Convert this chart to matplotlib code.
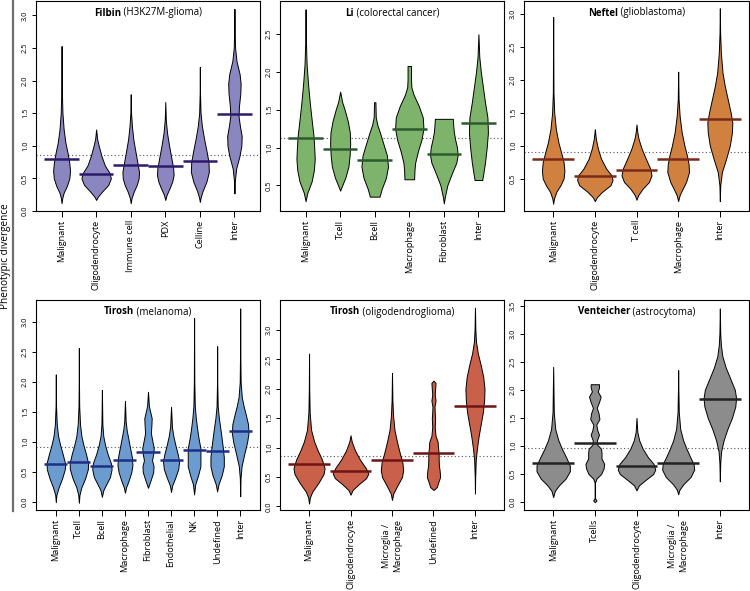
import matplotlib
matplotlib.use('Agg')
import matplotlib.pyplot as plt
from matplotlib.lines import Line2D

plt.rcParams['font.family'] = ['Open Sans', 'DejaVu Sans']

# ---------------- data ----------------
FILBIN_CATS = ["Malignant", "Oligodendrocyte", "Immune cell", "PDX", "Celline", "Inter"]
FILBIN_MEANS = [0.80, 0.56, 0.71, 0.69, 0.77, 1.49]
FILBIN_REF = 0.86
FILBIN_Y = [
    [0.12, 0.2, 0.28, 0.38, 0.5, 0.62, 0.75, 0.9, 1.05, 1.25, 1.5, 1.8, 2.53],
    [0.17, 0.22, 0.3, 0.4, 0.5, 0.58, 0.7, 0.85, 1.0, 1.1, 1.25],
    [0.12, 0.2, 0.3, 0.4, 0.5, 0.6, 0.75, 0.9, 1.1, 1.3, 1.5, 1.79],
    [0.17, 0.25, 0.35, 0.45, 0.55, 0.65, 0.8, 1.0, 1.2, 1.4, 1.67],
    [0.14, 0.2, 0.3, 0.45, 0.6, 0.75, 0.9, 1.1, 1.3, 1.5, 1.8, 2.21],
    [0.27, 0.45, 0.65, 0.85, 1.0, 1.15, 1.3, 1.45, 1.6, 1.8, 1.95, 2.1, 2.3, 2.5, 2.8, 3.1],
]
FILBIN_W = [
    [0.0, 0.04, 0.12, 0.3, 0.45, 0.49, 0.44, 0.34, 0.22, 0.12, 0.05, 0.02, 0.0],
    [0.0, 0.1, 0.35, 0.7, 0.85, 0.78, 0.5, 0.3, 0.15, 0.06, 0.0],
    [0.0, 0.05, 0.18, 0.35, 0.46, 0.48, 0.38, 0.28, 0.15, 0.07, 0.02, 0.0],
    [0.0, 0.08, 0.25, 0.4, 0.48, 0.46, 0.36, 0.22, 0.1, 0.03, 0.0],
    [0.0, 0.04, 0.15, 0.38, 0.52, 0.5, 0.4, 0.25, 0.12, 0.04, 0.01, 0.0],
    [0.0, 0.02, 0.1, 0.3, 0.4, 0.42, 0.32, 0.24, 0.26, 0.34, 0.36, 0.3, 0.12, 0.04, 0.01, 0.0],
]

LI_CATS = ["Malignant", "Tcell", "Bcell", "Macrophage", "Fibroblast", "Inter"]
LI_MEANS = [1.12, 0.98, 0.83, 1.25, 0.91, 1.32]
LI_REF = 1.12
LI_Y = [
    [0.29, 0.4, 0.55, 0.7, 0.85, 1.0, 1.15, 1.35, 1.6, 1.85, 2.1, 2.4, 2.83],
    [0.43, 0.5, 0.6, 0.75, 0.9, 1.05, 1.2, 1.35, 1.5, 1.6, 1.74],
    [0.35, 0.45, 0.6, 0.75, 0.9, 1.05, 1.2, 1.3, 1.4, 1.6],
    [0.58, 0.7, 0.8, 0.95, 1.1, 1.25, 1.4, 1.55, 1.7, 1.8, 1.9, 2.08],
    [0.26, 0.35, 0.5, 0.65, 0.8, 0.9, 1.0, 1.1, 1.2, 1.3, 1.38],
    [0.57, 0.65, 0.8, 1.0, 1.2, 1.4, 1.6, 1.8, 2.0, 2.2, 2.5],
]
LI_W = [
    [0.0, 0.1, 0.35, 0.48, 0.53, 0.5, 0.46, 0.36, 0.24, 0.14, 0.06, 0.02, 0.0],
    [0.0, 0.12, 0.3, 0.48, 0.55, 0.58, 0.56, 0.44, 0.26, 0.12, 0.0],
    [0.28, 0.4, 0.65, 0.77, 0.7, 0.5, 0.3, 0.15, 0.06, 0.04],
    [0.28, 0.3, 0.34, 0.5, 0.7, 0.82, 0.78, 0.55, 0.25, 0.12, 0.1, 0.1],
    [0.0, 0.06, 0.2, 0.45, 0.72, 0.8, 0.76, 0.66, 0.58, 0.54, 0.52],
    [0.22, 0.28, 0.38, 0.48, 0.55, 0.52, 0.38, 0.26, 0.14, 0.05, 0.0],
]

NEFTEL_CATS = ["Malignant", "Oligodendrocyte", "T cell", "Macrophage", "Inter"]
NEFTEL_MEANS = [0.79, 0.54, 0.63, 0.79, 1.41]
NEFTEL_REF = 0.91
NEFTEL_Y = [
    [0.12, 0.2, 0.3, 0.4, 0.5, 0.62, 0.75, 0.9, 1.05, 1.25, 1.5, 1.8, 2.95],
    [0.16, 0.22, 0.3, 0.4, 0.48, 0.55, 0.65, 0.8, 0.95, 1.1, 1.25],
    [0.18, 0.25, 0.35, 0.45, 0.55, 0.65, 0.8, 0.95, 1.1, 1.2, 1.32],
    [0.16, 0.25, 0.35, 0.45, 0.6, 0.72, 0.85, 1.0, 1.2, 1.45, 1.7, 2.12],
    [0.16, 0.4, 0.6, 0.8, 1.0, 1.2, 1.35, 1.5, 1.7, 1.9, 2.1, 2.4, 2.7, 3.08],
]
NEFTEL_W = [
    [0.0, 0.04, 0.15, 0.35, 0.5, 0.54, 0.5, 0.38, 0.25, 0.13, 0.05, 0.015, 0.0],
    [0.0, 0.1, 0.35, 0.75, 0.85, 0.8, 0.55, 0.3, 0.15, 0.05, 0.0],
    [0.0, 0.08, 0.3, 0.6, 0.72, 0.66, 0.45, 0.25, 0.1, 0.04, 0.0],
    [0.0, 0.07, 0.22, 0.38, 0.52, 0.5, 0.42, 0.3, 0.17, 0.07, 0.02, 0.0],
    [0.0, 0.02, 0.1, 0.3, 0.48, 0.58, 0.6, 0.52, 0.38, 0.24, 0.13, 0.05, 0.015, 0.0],
]

MEL_CATS = ["Malignant", "Tcell", "Bcell", "Macrophage", "Fibroblast", "Endothelial", "NK", "Undefined", "Inter"]
MEL_MEANS = [0.64, 0.67, 0.60, 0.71, 0.84, 0.70, 0.87, 0.86, 1.18]
MEL_REF = 0.92
MEL_Y = [
    [0.0, 0.12, 0.25, 0.4, 0.55, 0.65, 0.8, 0.95, 1.1, 1.3, 1.6, 2.13],
    [-0.01, 0.12, 0.25, 0.4, 0.55, 0.65, 0.8, 0.95, 1.1, 1.3, 1.6, 2.0, 2.57],
    [0.09, 0.2, 0.3, 0.42, 0.55, 0.65, 0.8, 0.95, 1.1, 1.3, 1.87],
    [0.16, 0.25, 0.35, 0.5, 0.62, 0.75, 0.9, 1.05, 1.2, 1.35, 1.69],
    [0.24, 0.35, 0.5, 0.6, 0.7, 0.8, 0.9, 1.0, 1.15, 1.3, 1.4, 1.5, 1.6, 1.84],
    [0.17, 0.28, 0.4, 0.55, 0.68, 0.8, 0.95, 1.1, 1.25, 1.59],
    [0.13, 0.3, 0.45, 0.6, 0.75, 0.9, 1.05, 1.2, 1.4, 1.6, 2.0, 3.07],
    [0.18, 0.3, 0.45, 0.6, 0.75, 0.9, 1.05, 1.2, 1.4, 1.6, 2.0, 2.6],
    [0.1, 0.4, 0.6, 0.8, 1.0, 1.15, 1.3, 1.45, 1.6, 1.75, 2.0, 2.5, 3.23],
]
MEL_W = [
    [0.0, 0.05, 0.25, 0.55, 0.78, 0.8, 0.6, 0.38, 0.2, 0.08, 0.02, 0.0],
    [0.0, 0.05, 0.22, 0.55, 0.78, 0.8, 0.62, 0.4, 0.22, 0.1, 0.03, 0.01, 0.0],
    [0.0, 0.12, 0.38, 0.7, 0.84, 0.78, 0.5, 0.28, 0.12, 0.04, 0.0],
    [0.0, 0.1, 0.3, 0.55, 0.65, 0.6, 0.45, 0.3, 0.15, 0.06, 0.0],
    [0.0, 0.2, 0.45, 0.48, 0.35, 0.45, 0.5, 0.4, 0.25, 0.3, 0.32, 0.2, 0.08, 0.0],
    [0.0, 0.1, 0.35, 0.62, 0.7, 0.58, 0.38, 0.2, 0.08, 0.0],
    [0.0, 0.1, 0.35, 0.55, 0.55, 0.55, 0.4, 0.28, 0.15, 0.06, 0.02, 0.0],
    [0.0, 0.12, 0.4, 0.58, 0.58, 0.5, 0.4, 0.3, 0.15, 0.05, 0.01, 0.0],
    [0.0, 0.03, 0.12, 0.35, 0.6, 0.72, 0.68, 0.5, 0.3, 0.14, 0.04, 0.01, 0.0],
]

OLIGO_CATS = ["Malignant", "Oligodendrocyte", "Microglia /\nMacrophage", "Undefined", "Inter"]
OLIGO_MEANS = [0.72, 0.60, 0.79, 0.91, 1.71]
OLIGO_REF = 0.85
OLIGO_Y = [
    [0.05, 0.15, 0.25, 0.4, 0.55, 0.65, 0.8, 0.95, 1.1, 1.3, 1.6, 2.0, 2.6],
    [0.2, 0.28, 0.38, 0.48, 0.56, 0.65, 0.8, 0.95, 1.1, 1.21],
    [0.11, 0.22, 0.35, 0.5, 0.62, 0.75, 0.9, 1.1, 1.3, 1.55, 1.8, 2.27],
    [0.28, 0.33, 0.4, 0.5, 0.6, 0.7, 0.8, 0.9, 1.0, 1.1, 1.2, 1.35, 1.5, 1.6, 1.7, 1.8, 1.9, 2.0, 2.1, 2.14],
    [0.22, 0.5, 0.8, 1.0, 1.2, 1.4, 1.6, 1.8, 2.0, 2.2, 2.4, 2.6, 2.8, 3.0, 3.38],
]
OLIGO_W = [
    [0.0, 0.04, 0.15, 0.45, 0.7, 0.75, 0.62, 0.42, 0.25, 0.1, 0.03, 0.01, 0.0],
    [0.0, 0.1, 0.4, 0.75, 0.86, 0.74, 0.45, 0.22, 0.06, 0.0],
    [0.0, 0.06, 0.25, 0.48, 0.54, 0.5, 0.38, 0.24, 0.12, 0.05, 0.02, 0.0],
    [0.0, 0.16, 0.22, 0.32, 0.3, 0.26, 0.25, 0.25, 0.22, 0.2, 0.1, 0.06, 0.08, 0.06, 0.05, 0.1, 0.06, 0.08, 0.1, 0.0],
    [0.0, 0.01, 0.04, 0.1, 0.18, 0.28, 0.38, 0.44, 0.46, 0.4, 0.28, 0.14, 0.05, 0.02, 0.0],
]

VENT_CATS = ["Malignant", "Tcells", "Oligodendrocyte", "Microglia /\nMacrophage", "Inter"]
VENT_MEANS = [0.70, 1.06, 0.64, 0.70, 1.83]
VENT_REF = 0.96
VENT_Y = [
    [0.09, 0.2, 0.3, 0.42, 0.55, 0.65, 0.8, 0.95, 1.1, 1.3, 1.6, 2.41],
    [0.0, 0.03, 0.07, 0.35, 0.42, 0.5, 0.6, 0.68, 0.78, 0.88, 0.95, 1.02, 1.1, 1.2, 1.28, 1.38, 1.48, 1.58, 1.68, 1.78, 1.88, 1.97, 2.04, 2.1],
    [0.21, 0.3, 0.4, 0.5, 0.58, 0.68, 0.8, 0.95, 1.1, 1.25, 1.5],
    [0.14, 0.22, 0.32, 0.45, 0.58, 0.68, 0.8, 0.95, 1.1, 1.3, 1.6, 2.0, 2.35],
    [0.37, 0.7, 0.9, 1.1, 1.3, 1.5, 1.7, 1.85, 2.0, 2.2, 2.4, 2.6, 2.8, 3.0, 3.45],
]
VENT_W = [
    [0.0, 0.08, 0.28, 0.6, 0.8, 0.8, 0.62, 0.42, 0.25, 0.1, 0.03, 0.0],
    [0.0, 0.08, 0.01, 0.01, 0.08, 0.3, 0.42, 0.45, 0.32, 0.32, 0.3, 0.12, 0.1, 0.2, 0.12, 0.07, 0.22, 0.18, 0.09, 0.2, 0.28, 0.14, 0.2, 0.2],
    [0.0, 0.12, 0.45, 0.8, 0.9, 0.82, 0.55, 0.3, 0.13, 0.04, 0.0],
    [0.0, 0.06, 0.25, 0.6, 0.77, 0.74, 0.58, 0.4, 0.24, 0.1, 0.03, 0.01, 0.0],
    [0.0, 0.02, 0.06, 0.18, 0.36, 0.58, 0.74, 0.78, 0.72, 0.5, 0.28, 0.12, 0.05, 0.02, 0.0],
]

PANELS = [
    dict(name="Filbin", sub=" (H3K27M-glioma)", cats=FILBIN_CATS, means=FILBIN_MEANS, ref=FILBIN_REF,
         ys=FILBIN_Y, ws=FILBIN_W, fill="#8b86bf", line="#2e1a6b", ylim=(0.0, 3.22),
         yticks=[0.0, 0.5, 1.0, 1.5, 2.0, 2.5, 3.0], pos=(36, 1, 224, 210)),
    dict(name="Li", sub=" (colorectal cancer)", cats=LI_CATS, means=LI_MEANS, ref=LI_REF,
         ys=LI_Y, ws=LI_W, fill="#7db36a", line="#2c5a2e", ylim=(0.16, 2.94),
         yticks=[0.5, 1.0, 1.5, 2.0, 2.5], pos=(280, 1, 224, 210)),
    dict(name="Neftel", sub=" (glioblastoma)", cats=NEFTEL_CATS, means=NEFTEL_MEANS, ref=NEFTEL_REF,
         ys=NEFTEL_Y, ws=NEFTEL_W, fill="#d08140", line="#7a2a1a", ylim=(0.01, 3.19),
         yticks=[0.5, 1.0, 1.5, 2.0, 2.5, 3.0], pos=(524, 1, 225, 210)),
    dict(name="Tirosh", sub=" (melanoma)", cats=MEL_CATS, means=MEL_MEANS, ref=MEL_REF,
         ys=MEL_Y, ws=MEL_W, fill="#6c9bd0", line="#1f2f86", ylim=(-0.13, 3.37),
         yticks=[0.0, 0.5, 1.0, 1.5, 2.0, 2.5, 3.0], pos=(36, 300, 224, 210)),
    dict(name="Tirosh", sub=" (oligodendroglioma)", cats=OLIGO_CATS, means=OLIGO_MEANS, ref=OLIGO_REF,
         ys=OLIGO_Y, ws=OLIGO_W, fill="#c8604a", line="#6e1414", ylim=(-0.06, 3.51),
         yticks=[0.0, 0.5, 1.0, 1.5, 2.0, 2.5, 3.0], pos=(280, 300, 224, 210)),
    dict(name="Venteicher", sub=" (astrocytoma)", cats=VENT_CATS, means=VENT_MEANS, ref=VENT_REF,
         ys=VENT_Y, ws=VENT_W, fill="#8c8c8c", line="#222222", ylim=(-0.14, 3.60),
         yticks=[0.0, 0.5, 1.0, 1.5, 2.0, 2.5, 3.0, 3.5], pos=(524, 300, 225, 210)),
]

W, H = 750, 591
fig = plt.figure(figsize=(W / 100, H / 100), dpi=100)

title_pairs = []
for p in PANELS:
    x0, y0, w, h = p["pos"]
    ax = fig.add_axes([x0 / W, 1 - (y0 + h) / H, w / W, h / H])
    n = len(p["cats"])
    for i in range(n):
        c = i + 1
        ys = p["ys"][i]
        half = [v / 2 for v in p["ws"][i]]
        ax.fill_betweenx(ys, [c - v for v in half], [c + v for v in half],
                         facecolor=p["fill"], edgecolor="black", linewidth=0.7, zorder=2)
        ax.plot([c - 0.5, c + 0.5], [p["means"][i]] * 2, color=p["line"],
                linewidth=1.8, solid_capstyle="butt", zorder=3)
    ax.axhline(p["ref"], color="#555555", linestyle=(0, (1, 2.2)), linewidth=0.8, zorder=1)
    ext = 0.04 * n
    ax.set_xlim(0.5 - ext, n + 0.5 + ext)
    ax.set_ylim(*p["ylim"])
    ax.set_xticks(range(1, n + 1))
    ax.set_xticklabels(p["cats"], rotation=90, fontsize=6.6, multialignment="center")
    ax.set_yticks(p["yticks"])
    ax.set_yticklabels([f"{v:.1f}" for v in p["yticks"]], rotation=90, va="center", fontsize=5.3)
    ax.tick_params(axis="x", length=4, width=0.7, pad=2.5)
    ax.tick_params(axis="y", length=3, width=0.7, pad=2)
    for s in ax.spines.values():
        s.set_linewidth(0.8)
    t1 = ax.text(0.5, 1 - 12 / h, p["name"], transform=ax.transAxes, fontweight="bold",
                 ha="left", va="center", fontsize=7)
    t2 = ax.text(0.5, 1 - 12 / h, p["sub"], transform=ax.transAxes,
                 ha="left", va="center", fontsize=7)
    title_pairs.append((ax, t1, t2))

fig.canvas.draw()
r = fig.canvas.get_renderer()
for ax, t1, t2 in title_pairs:
    w1 = t1.get_window_extent(r).width
    w2 = t2.get_window_extent(r).width
    aw = ax.bbox.width
    xs = 0.5 - (w1 + w2) / 2 / aw
    t1.set_x(xs)
    t2.set_x(xs + w1 / aw)

fig.text(6 / W, 1 - 256 / H, "Phenotypic divergence", rotation=90, ha="center", va="center", fontsize=7.2)
fig.add_artist(Line2D([13.5 / W, 13.5 / W], [1 - 0 / H, 1 - 511 / H], color="#707070", linewidth=1.6))

fig.savefig("out.png", dpi=100)
